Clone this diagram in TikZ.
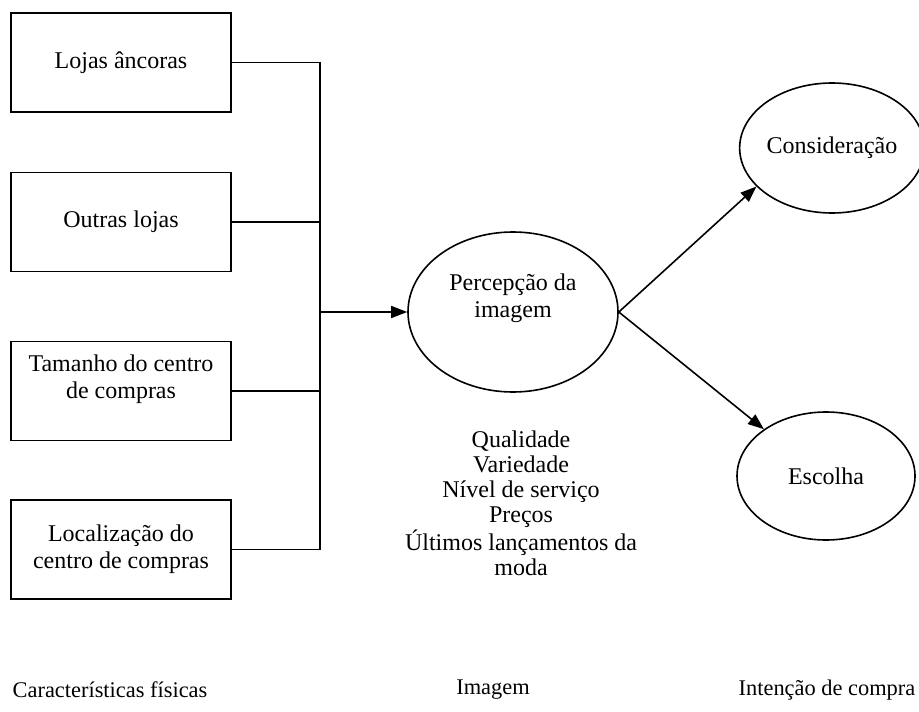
\documentclass[tikz,border=0pt]{standalone}
\usepackage{fontspec}
\setmainfont{Liberation Serif}
\usetikzlibrary{shapes.geometric, arrows.meta, positioning, calc}

\begin{document}
\begin{tikzpicture}[x=0.5pt, y=-0.5pt, font=\fontsize{12}{13.5}\selectfont]
    % Styles
    \tikzstyle{factor}=[draw, line width=0.8pt, minimum width=110pt, minimum height=49.5pt, align=center, inner sep=0pt]
    \tikzstyle{construct}=[draw, ellipse, line width=0.8pt, align=center, inner sep=0pt]
    \tikzstyle{attrs}=[align=center, font=\fontsize{12}{12.5}\selectfont]
    \tikzstyle{coltitle}=[font=\fontsize{11.2}{13}\selectfont]
    \tikzstyle{link}=[line width=0.8pt]
    \tikzstyle{flow}=[line width=0.8pt, -{Triangle[length=8pt, width=6pt]}]

    \useasboundingbox (0,0) rectangle (919,711);

    % Caracteristicas fisicas
    \node[factor] (ancoras) at (121,62.5) {Lojas âncoras};
    \node[factor] (outras) at (121,222) {Outras lojas};
    \node[factor, text depth=14.5pt] (tamanho) at (121,391) {Tamanho do centro\\de compras};
    \node[factor] (local) at (121,549.5) {Localização do\\centro de compras};

    % Imagem
    \node[construct, minimum width=105pt, minimum height=80pt, text depth=16.5pt] (percepcao) at (513,312) {Percepção da\\imagem};
    \node[attrs] (atributos) at (521,503) {Qualidade\\Variedade\\Nível de serviço\\Preços\\Últimos lançamentos da\\moda};

    % Intencao de compra
    \node[construct, minimum width=86.5pt, minimum height=65pt] (consideracao) at (832,148) {Consideração};
    \node[construct, minimum width=89pt, minimum height=64pt] (escolha) at (826,476) {Escolha};

    % Column titles
    \node[coltitle] (fisicas) at (110,690) {Características físicas};
    \node[coltitle] (imagem) at (493,690) {Imagem};
    \node[coltitle] (intencao) at (827,690) {Intenção de compra};

    % Connectors
    \coordinate (bus) at (320,0);
    \draw[link] (ancoras.east) -- (ancoras.east -| bus);
    \draw[link] (outras.east) -- (outras.east -| bus);
    \draw[link] (tamanho.east) -- (tamanho.east -| bus);
    \draw[link] (local.east) -- (local.east -| bus);
    \draw[link, line width=1pt] (ancoras.east -| bus) -- (local.east -| bus);
    \draw[flow] (percepcao.west -| bus) -- (percepcao.west);
    \draw[flow] (percepcao.east) -- (consideracao.207);
    \draw[flow] (percepcao.east) -- (escolha.143);
\end{tikzpicture}
\end{document}
